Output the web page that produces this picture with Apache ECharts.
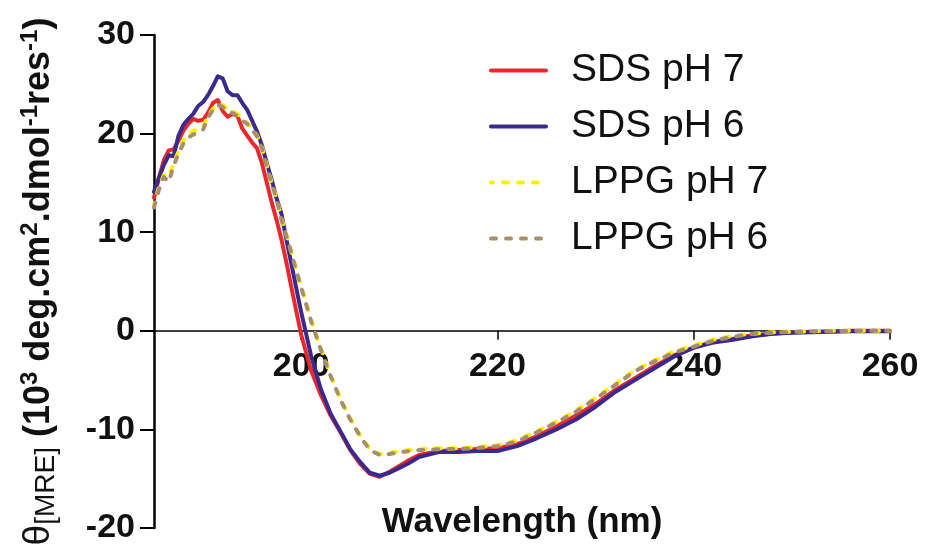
<!DOCTYPE html>
<html>
<head>
<meta charset="utf-8">
<script src="https://cdn.jsdelivr.net/npm/echarts@6/dist/echarts.min.js"></script>
<style>
  html, body { margin: 0; padding: 0; background: #fff; }
  #chart { width: 925px; height: 552px; }
</style>
</head>
<body>
<div id="chart"></div>
<script>
// wavelength grid (nm)
var wavelength = [
    185, 185.5, 186, 186.5, 187, 187.5, 188, 188.5, 189, 189.5,
    190, 190.5, 191, 191.5, 192, 192.5, 193, 193.5, 194, 194.5,
    195, 195.5, 196, 196.5, 197, 197.5, 198, 198.5, 199, 199.5,
    200, 201, 202, 203, 204, 205, 206, 207, 208, 209, 210, 211, 212,
    214, 216, 218, 220, 222, 224, 226, 228, 230, 232, 234, 236, 238,
    240, 242, 244, 246, 248, 250, 252, 254, 256, 258, 260
];

var sdsPh7 = [
    13.5, 15.5, 17.3, 18.3, 18.4, 19.3, 20.3, 21.0, 21.5, 21.3,
    21.4, 22.1, 23.1, 23.4, 22.3, 21.7, 22.0, 21.8, 20.5, 19.8,
    19.1, 18.5, 17.0, 15.0, 13.0, 11.2, 9.2, 6.9, 4.4, 2.0,
    -0.4, -4.0, -6.5, -8.6, -10.3, -12.1, -13.5, -14.5, -14.8, -14.3, -13.7, -13.1, -12.6,
    -12.2, -12.1, -12.0, -11.9, -11.5, -10.7, -9.7, -8.6, -7.4, -6.0, -4.8, -3.6, -2.5,
    -1.7, -1.1, -0.8, -0.45, -0.3, -0.15, -0.1, -0.05, 0, 0, 0
];

var sdsPh6 = [
    14.1, 15.5, 16.8, 17.8, 17.7, 19.8, 20.9, 21.5, 22.0, 22.8,
    23.2, 23.9, 24.8, 25.8, 25.6, 24.3, 23.9, 23.9, 23.1, 22.4,
    21.3, 20.2, 18.8, 17.0, 15.3, 13.4, 11.8, 9.2, 6.8, 4.3,
    1.9, -2.5, -5.9, -8.4, -10.2, -12.0, -13.3, -14.4, -14.7, -14.4, -13.9, -13.4, -12.8,
    -12.3, -12.3, -12.2, -12.2, -11.7, -10.9, -10.0, -9.0, -7.7, -6.2, -5.0, -3.8, -2.6,
    -1.7, -1.2, -0.9, -0.55, -0.3, -0.2, -0.15, -0.1, -0.05, -0.05, -0.05
];

var lppgPh7 = [
    12.8, 14.6, 15.8, 15.6, 17.0, 18.2, 19.3, 19.9, 20.3, 20.4,
    20.7, 21.8, 22.5, 23.0, 22.9, 22.5, 22.3, 22.0, 21.5, 21.1,
    20.5, 19.8, 18.6, 16.8, 15.0, 13.4, 11.4, 9.7, 8.0, 6.2,
    4.5, 1.1, -1.8, -4.5, -6.9, -8.9, -10.6, -12.0, -12.5, -12.4, -12.2, -12.1, -12.0,
    -11.9, -11.9, -11.8, -11.6, -11.1, -10.2, -9.2, -8.1, -6.8, -5.4, -4.0, -3.0, -2.1,
    -1.5, -0.9, -0.5, -0.3, -0.15, -0.1, -0.05, 0, 0, 0, 0
];

var lppgPh6 = [
    12.5, 14.3, 15.6, 15.1, 16.7, 18.0, 19.0, 19.6, 19.9, 20.1,
    20.4, 21.6, 22.4, 22.9, 22.7, 22.3, 22.1, 21.8, 21.3, 21.0,
    20.4, 19.7, 18.5, 16.6, 14.9, 13.3, 11.2, 9.6, 7.9, 6.1,
    4.4, 1.0, -1.9, -4.6, -7.0, -9.0, -10.7, -12.1, -12.6, -12.5, -12.3, -12.2, -12.1,
    -12.0, -12.0, -11.9, -11.7, -11.2, -10.3, -9.3, -8.2, -6.9, -5.5, -4.1, -3.1, -2.2,
    -1.6, -1.0, -0.6, -0.3, -0.2, -0.1, -0.05, -0.05, 0, 0, 0
];

var seriesNames = ['SDS pH 7', 'SDS pH 6', 'LPPG pH 7', 'LPPG pH 6'];
var xTicks = [200, 220, 240, 260];

var FONT = '"Liberation Sans", Arial, sans-serif';

function pairs(ys) {
    return wavelength.map(function (x, i) { return [x, ys[i]]; });
}

function makeLine(name, ys, color, dash, offset) {
    return {
        name: name,
        type: 'line',
        data: pairs(ys),
        symbol: 'none',
        lineStyle: {
            color: color,
            width: 4,
            type: dash || 'solid',
            dashOffset: offset || 0,
            cap: 'round',
            join: 'round'
        },
        itemStyle: { color: color }
    };
}

var oChart = echarts.init(document.getElementById('chart'), null, { renderer: 'canvas' });

oChart.setOption({
    animation: false,
    backgroundColor: '#fff',
    textStyle: { fontFamily: FONT },
    grid: { left: 154, right: 35, top: 35, bottom: 24, containLabel: false, outerBoundsMode: 'none' },
    legend: {
        left: 484,
        top: 46,
        orient: 'vertical',
        itemWidth: 55,
        itemHeight: 14,
        itemGap: 17,
        itemStyle: { opacity: 0 },
        lineStyle: { width: 4 },
        textStyle: { fontSize: 39, color: '#111', fontFamily: FONT, padding: [0, 0, 0, 20] },
        data: seriesNames
    },
    xAxis: {
        type: 'value',
        min: 185,
        max: 260,
        name: 'Wavelength (nm)',
        nameLocation: 'middle',
        // labels and name are placed from the grid edge, not the zero line
        nameGap: -23,
        nameTextStyle: { fontSize: 35, fontWeight: 'bold', color: '#111', fontFamily: FONT },
        axisLine: { onZero: true, lineStyle: { color: '#000', width: 1.5 } },
        axisTick: { show: true, length: 9, customValues: xTicks, lineStyle: { color: '#000', width: 1.5 } },
        axisLabel: {
            customValues: xTicks,
            margin: -178,
            fontSize: 34,
            fontWeight: 'bold',
            color: '#111',
            fontFamily: FONT
        },
        splitLine: { show: false }
    },
    yAxis: {
        type: 'value',
        min: -20,
        max: 30,
        interval: 10,
        name: '{t|θ}{s|[MRE]}{b| (10}{p|3}{b| deg.cm}{p|2}{b|.dmol}{p|-1}{b|res}{p|-1}{b|)}',
        nameLocation: 'middle',
        nameGap: 94,
        nameTextStyle: {
            fontFamily: FONT,
            color: '#111',
            rich: {
                t: { fontSize: 37, lineHeight: 42, color: '#111', fontFamily: FONT },
                s: { fontSize: 28, lineHeight: 24, verticalAlign: 'bottom', color: '#111', fontFamily: FONT },
                b: { fontSize: 36, lineHeight: 42, fontWeight: 'bold', color: '#111', fontFamily: FONT },
                p: { fontSize: 24, lineHeight: 16, verticalAlign: 'top', fontWeight: 'bold', color: '#111', fontFamily: FONT }
            }
        },
        axisLine: { show: true, lineStyle: { color: '#000', width: 2.5 } },
        axisTick: { show: true, length: 14, lineStyle: { color: '#000', width: 2 } },
        axisLabel: {
            margin: 19,
            fontSize: 34,
            fontWeight: 'bold',
            color: '#111',
            fontFamily: FONT
        },
        splitLine: { show: false }
    },
    series: [
        makeLine(seriesNames[0], sdsPh7, '#E8282C'),
        makeLine(seriesNames[1], sdsPh6, '#3B2A8C'),
        makeLine(seriesNames[2], lppgPh7, '#FFF000', [5, 10], 3),
        makeLine(seriesNames[3], lppgPh6, '#A88F6C', [5, 10], 0)
    ]
});
</script>
</body>
</html>
